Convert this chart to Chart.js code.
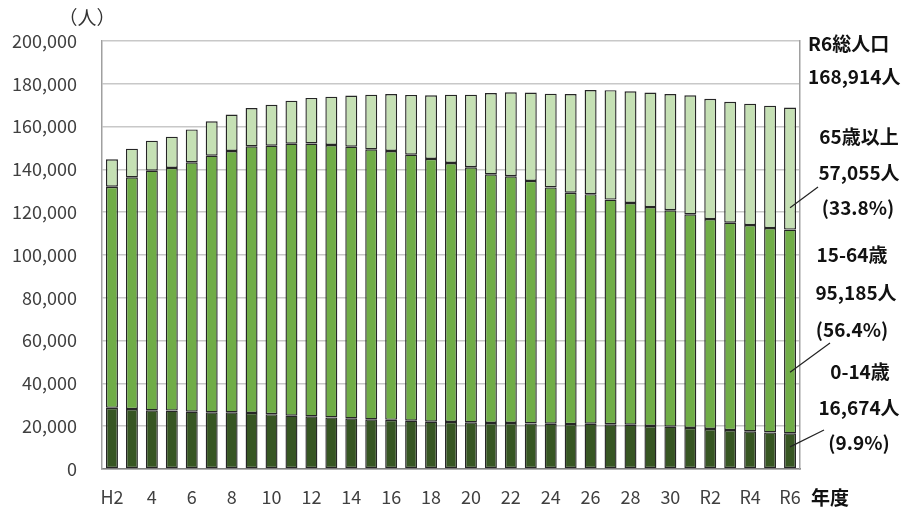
<!DOCTYPE html>
<html>
<head>
<meta charset="utf-8">
<script src="https://cdn.jsdelivr.net/npm/chart.js@4"></script>
<style>
  html, body { margin: 0; padding: 0; background: #fff; }
  #wrap { width: 913px; height: 512px; position: relative; }
</style>
</head>
<body>
<div id="wrap"><canvas id="c" width="913" height="512"></canvas></div>
<script>
// 年度 (H2〜H30, R1〜R6)
const years = ['H2','H3','H4','H5','H6','H7','H8','H9','H10','H11','H12','H13','H14','H15','H16',
  'H17','H18','H19','H20','H21','H22','H23','H24','H25','H26','H27','H28','H29','H30',
  'R1','R2','R3','R4','R5','R6'];
// x軸に表示するラベル (1年おき)
const tickLabels = ['H2','','4','','6','','8','','10','','12','','14','','16',
  '','18','','20','','22','','24','','26','','28','','30',
  '','R2','','R4','','R6'];

// 年齢3区分別人口 (人)
const age0to14 = [28600,28000,27400,27300,26800,26500,26500,26200,25600,24900,24600,24100,23700,23200,23000,
  22600,22100,22000,21800,21500,21500,21300,21200,21000,21200,20900,20700,20100,19800,
  19200,18700,18200,17600,17100,16674];
const age15to64 = [103300,108300,112000,113400,116500,119900,122100,124600,125500,127100,127500,127300,126900,126200,125600,
  124300,122800,121000,119200,116200,115300,113300,110400,108100,107200,105000,103600,102300,101100,
  99800,98100,96900,96400,95500,95185];
const age65plus = [12800,13400,14000,14600,15400,16100,17000,17900,19100,20100,21300,22600,23900,25500,26600,
  27900,29700,31900,33900,38000,39200,41300,43800,46100,48700,51100,52200,53500,54300,
  55600,56200,56500,56700,57200,57055];

const yTicks = [0,20000,40000,60000,80000,100000,120000,140000,160000,180000,200000];

const JP = '"Noto Sans CJK JP", "Noto Sans", sans-serif';

// 右側の注記と引き出し線
const notes = {
  id: 'notes',
  afterDraw(chart) {
    const ctx = chart.ctx;
    const x = chart.scales.x, y = chart.scales.y;
    const last = years.length - 1;
    ctx.save();
    ctx.textBaseline = 'middle';

    ctx.font = '19px ' + JP;
    ctx.fillStyle = '#333';
    ctx.textAlign = 'center';
    ctx.fillText('（人）', 87, 18);

    ctx.fillStyle = '#111';
    ctx.font = 'bold 19px ' + JP;
    ctx.textAlign = 'left';
    ctx.fillText('R6総人口', 808, 44);
    ctx.fillText('168,914人', 808, 77);
    ctx.fillText('年度', 811, 498);

    ctx.textAlign = 'center';
    const lines = [
      ['65歳以上', 859, 137], ['57,055人', 859, 173], ['(33.8%)', 858, 208],
      ['15-64歳', 852, 255], ['95,185人', 856, 293], ['(56.4%)', 852, 330],
      ['0-14歳', 860, 372], ['16,674人', 859, 408], ['(9.9%)', 859, 443]
    ];
    lines.forEach(l => ctx.fillText(l[0], l[1], l[2]));

    // 引き出し線
    const bx = x.getPixelForValue(last);
    const v0 = age0to14[last], v1 = age15to64[last], v2 = age65plus[last];
    ctx.strokeStyle = '#222';
    ctx.lineWidth = 1.2;
    const leader = (x1, y1, x2, y2) => {
      ctx.beginPath(); ctx.moveTo(x1, y1); ctx.lineTo(x2, y2); ctx.stroke();
    };
    leader(818, 187, bx, y.getPixelForValue(v0 + v1 + v2 * 0.18));
    leader(830, 343, bx, y.getPixelForValue(v0 + v1 * 0.3));
    leader(824, 430, bx, y.getPixelForValue(v0 * 0.62));
    ctx.restore();
  }
};

new Chart(document.getElementById('c'), {
  type: 'bar',
  data: {
    labels: years,
    datasets: [
      { label: '0-14歳', data: age0to14, backgroundColor: '#375623' },
      { label: '15-64歳', data: age15to64, backgroundColor: '#70ad47' },
      { label: '65歳以上', data: age65plus, backgroundColor: '#c5e0b4' }
    ].map(d => Object.assign(d, {
      borderColor: '#262626', borderWidth: 1.4, borderSkipped: false,
      barPercentage: 0.6, categoryPercentage: 1.0
    }))
  },
  options: {
    responsive: false,
    animation: false,
    layout: { padding: { left: 0, right: 113, top: 41, bottom: 0 } },
    plugins: { legend: { display: false }, tooltip: { enabled: false } },
    scales: {
      x: {
        stacked: true,
        grid: { display: false, drawTicks: false },
        border: { color: '#808080', width: 1.5 },
        ticks: {
          autoSkip: false, maxRotation: 0, padding: 17,
          color: '#404040', font: { family: JP, size: 18 },
          callback: (v, i) => tickLabels[i]
        },
        afterFit: s => { s.height = 43; }
      },
      y: {
        stacked: true,
        min: 0, max: 200000,
        afterBuildTicks: s => { s.ticks = yTicks.map(v => ({ value: v })); },
        grid: { color: '#c8c8c8', lineWidth: 1.5, drawTicks: false },
        border: { color: '#a0a0a0', width: 1.5 },
        ticks: {
          padding: 25, color: '#404040', font: { family: JP, size: 18 },
          callback: v => v.toLocaleString('en-US')
        },
        afterFit: s => { s.width = 102; }
      },
      y2: {
        position: 'right', min: 0, max: 200000,
        grid: { display: false, drawTicks: false },
        border: { color: '#a0a0a0', width: 1.5 },
        ticks: { display: false },
        afterFit: s => { s.width = 0; }
      }
    }
  },
  plugins: [notes]
});
</script>
</body>
</html>
